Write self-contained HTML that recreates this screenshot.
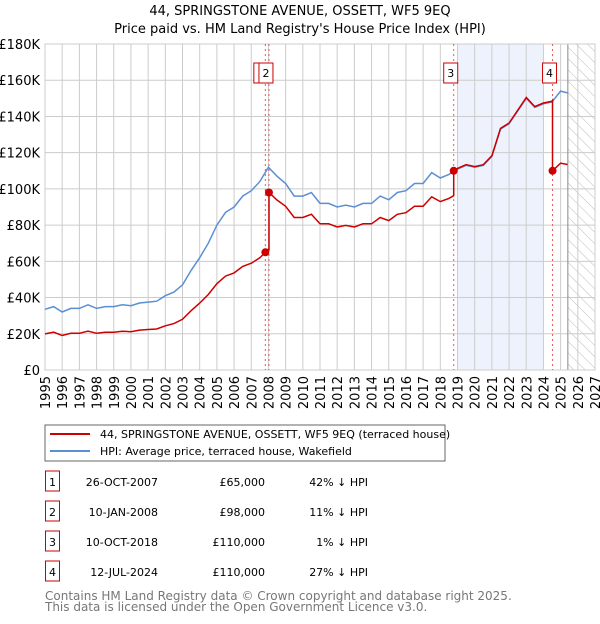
<!DOCTYPE html>
<html><head><meta charset="utf-8"><style>
body{margin:0;width:600px;height:620px;background:#fff;font-family:"DejaVu Sans","Liberation Sans",sans-serif;overflow:hidden}
svg text{font-family:"DejaVu Sans","Liberation Sans",sans-serif}
</style></head><body>
<svg id="c" width="600" height="620">
<defs><pattern id="hatch" width="8" height="8" patternUnits="userSpaceOnUse" patternTransform="rotate(-45)"><line x1="0" y1="0" x2="0" y2="8" stroke="#bbb" stroke-width="1"/></pattern></defs>
<text x="300" y="15" text-anchor="middle" font-size="13">44, SPRINGSTONE AVENUE, OSSETT, WF5 9EQ</text>
<text x="300" y="33" text-anchor="middle" font-size="13">Price paid vs. HM Land Registry's House Price Index (HPI)</text>
<g id="plot"></g>
<rect x="45" y="425" width="400" height="36" fill="#fff" stroke="#666"/>
<line x1="50" y1="434" x2="90" y2="434" stroke="#cc0000" stroke-width="2"/>
<text x="100" y="438" font-size="11">44, SPRINGSTONE AVENUE, OSSETT, WF5 9EQ (terraced house)</text>
<line x1="50" y1="451" x2="90" y2="451" stroke="#5b8fd4" stroke-width="2"/>
<text x="100" y="455" font-size="11">HPI: Average price, terraced house, Wakefield</text>
<g id="table" font-size="11"></g>
<text x="45" y="600" font-size="12" fill="#777">Contains HM Land Registry data © Crown copyright and database right 2025.</text>
<text x="45" y="611" font-size="12" fill="#777">This data is licensed under the Open Government Licence v3.0.</text>
</svg>
<script>
const hpiYears=[1995,1995.5,1996,1996.5,1997,1997.5,1998,1998.5,1999,1999.5,2000,2000.5,2001,2001.5,2002,2002.5,2003,2003.5,2004,2004.5,2005,2005.5,2006,2006.5,2007,2007.5,2008,2008.5,2009,2009.5,2010,2010.5,2011,2011.5,2012,2012.5,2013,2013.5,2014,2014.5,2015,2015.5,2016,2016.5,2017,2017.5,2018,2018.5,2019,2019.5,2020,2020.5,2021,2021.5,2022,2022.5,2023,2023.5,2024,2024.5,2025,2025.4];
const hpiValues=[33.5,35,32,34,34,36,34,35,35,36,35.5,37,37.5,38,41,43,47,55,62,70,80,87,90,96,99,104,112,107,103,96,96,98,92,92,90,91,90,92,92,96,94,98,99,103,103,109,106,108,111,113,112,113,118,133,136,143,150,145,147,148,154,153];
const saleLabels=["1","2","3","4"];
const saleDates=["26-OCT-2007","10-JAN-2008","10-OCT-2018","12-JUL-2024"];
const saleYears=[2007.82,2008.03,2018.78,2024.53];
const salePrices=[65,98,110,110];
const salePriceText=["£65,000","£98,000","£110,000","£110,000"];
const salePct=["42% ↓ HPI","11% ↓ HPI","1% ↓ HPI","27% ↓ HPI"];
const yTicks=[0,20,40,60,80,100,120,140,160,180];
const yTickLabels=["£0","£20K","£40K","£60K","£80K","£100K","£120K","£140K","£160K","£180K"];
const xTicks=[1995,1996,1997,1998,1999,2000,2001,2002,2003,2004,2005,2006,2007,2008,2009,2010,2011,2012,2013,2014,2015,2016,2017,2018,2019,2020,2021,2022,2023,2024,2025,2026,2027];

const L=45,R=595,T=44,B=370,x0=1995,x1=2027,yMax=180;
const X=v=>L+(v-x0)/(x1-x0)*(R-L);
const Y=v=>B-v/yMax*(B-T);
const NS="http://www.w3.org/2000/svg";
const plot=document.getElementById('plot');
function mk(tag,attrs,parent){const e=document.createElementNS(NS,tag);for(const k in attrs)e.setAttribute(k,attrs[k]);(parent||plot).appendChild(e);return e;}
function hpiAt(t){for(let i=0;i<hpiYears.length-1;i++){if(t<=hpiYears[i+1]){const f=(t-hpiYears[i])/(hpiYears[i+1]-hpiYears[i]);return hpiValues[i]+f*(hpiValues[i+1]-hpiValues[i]);}}return hpiValues[hpiValues.length-1];}

let e=mk('rect',{x:X(2019),y:T,width:X(2024)-X(2019),height:B-T,fill:'#eef2fc'});


e=mk('rect',{x:X(2025.42),y:T,width:R-X(2025.42),height:B-T,fill:'url(#hatch)'});


yTicks.forEach((v,i)=>{
 let g=mk('line',{x1:L,x2:R,y1:Y(v),y2:Y(v),stroke:'#ccc'});
 
 
 let t=mk('text',{x:L-5,y:Y(v)+5,'text-anchor':'end','font-size':'13'});t.textContent=yTickLabels[i];
 
 
});
xTicks.forEach(v=>{
 let g=mk('line',{x1:X(v),x2:X(v),y1:T,y2:B,stroke:'#ccc'});
 
 
 let t=mk('text',{x:0,y:0,'text-anchor':'end','font-size':'13',transform:`translate(${X(v)+5},${B+6}) rotate(-90)`});t.textContent=v;
 
 
});
e=mk('line',{x1:X(2025.42),x2:X(2025.42),y1:T,y2:B,stroke:'#888'});


e=mk('rect',{x:L,y:T,width:R-L,height:B-T,fill:'none',stroke:'#ccc'});


saleYears.forEach((s,i)=>{
 let l=mk('line',{x1:X(s),x2:X(s),y1:T,y2:B,stroke:'#e55','stroke-dasharray':'2,3'});
 
 
});
let d=hpiYears.map((t,i)=>(i?'L':'M')+X(t).toFixed(1)+','+Y(hpiValues[i]).toFixed(1)).join('');
e=mk('path',{d:d,fill:'none',stroke:'#5b8fd4','stroke-width':1.5});


const ratios=saleYears.map((s,i)=>salePrices[i]/hpiAt(s));
let pts=[];
pts.push([x0,hpiAt(x0)*ratios[0]]);
hpiYears.forEach((t,i)=>{
 saleYears.forEach((s,k)=>{if(s>(i?hpiYears[i-1]:-1e9)&&s<=t){const pr=k?ratios[k-1]:ratios[0];pts.push([s,hpiAt(s)*pr]);pts.push([s,salePrices[k]]);}});
 let k=-1;saleYears.forEach((s,j)=>{if(s<=t)k=j;});
 pts.push([t,hpiValues[i]*ratios[Math.max(k,0)]]);
});
d=pts.map((p,i)=>(i?'L':'M')+X(p[0]).toFixed(1)+','+Y(p[1]).toFixed(1)).join('');
e=mk('path',{d:d,fill:'none',stroke:'#cc0000','stroke-width':1.5});


saleYears.forEach((s,i)=>{
 let c=mk('circle',{cx:X(s),cy:Y(salePrices[i]),r:4,fill:'#cc0000'});
 
 
 const bx=i==0?X(s)-11.5:X(s)-10;
 let r=mk('rect',{x:bx,y:63,width:14,height:20,fill:'#fff',stroke:'#cc0000'});
 
 
 let t=mk('text',{x:bx+7,y:77,'text-anchor':'middle','font-size':'11'});t.textContent=saleLabels[i];
 
 
});
const tb=document.getElementById('table');
saleLabels.forEach((lab,i)=>{
 const y=483+i*30;
 let r=mk('rect',{x:45.5,y:y-12,width:14,height:20,fill:'#fff',stroke:'#cc0000'},tb);
 
 
 let t=mk('text',{x:52.5,y:y+3,'text-anchor':'middle'},tb);t.textContent=lab;
 
 
 t=mk('text',{x:158,y:y+3,'text-anchor':'end'},tb);t.textContent=saleDates[i];
 
 
 t=mk('text',{x:265,y:y+3,'text-anchor':'end'},tb);t.textContent=salePriceText[i];
 
 
 t=mk('text',{x:368,y:y+3,'text-anchor':'end'},tb);t.textContent=salePct[i];
 
 
});
</script>
</body></html>
